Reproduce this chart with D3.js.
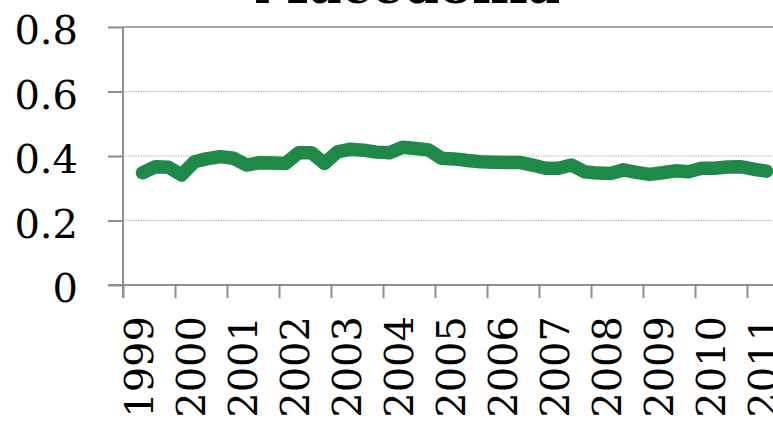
<!DOCTYPE html>
<html>
<head>
<meta charset="utf-8">
<script src="https://cdn.jsdelivr.net/npm/d3@7"></script>
<style>
  html, body { margin: 0; padding: 0; background: #fff; }
  svg { display: block; }
  text { font-family: "DejaVu Serif", "Liberation Serif", serif; fill: #000; }
</style>
</head>
<body>
<svg id="chart" width="773" height="429"></svg>
<script>
// Quarterly series, 1999 Q2 through 2011 Q2
const title = "Macedonia";
const years = [1999, 2000, 2001, 2002, 2003, 2004, 2005, 2006, 2007, 2008, 2009, 2010, 2011];
const yTicks = [0, 0.2, 0.4, 0.6, 0.8];
const quarters = [
  "1999Q2","1999Q3","1999Q4",
  "2000Q1","2000Q2","2000Q3","2000Q4",
  "2001Q1","2001Q2","2001Q3","2001Q4",
  "2002Q1","2002Q2","2002Q3","2002Q4",
  "2003Q1","2003Q2","2003Q3","2003Q4",
  "2004Q1","2004Q2","2004Q3","2004Q4",
  "2005Q1","2005Q2","2005Q3","2005Q4",
  "2006Q1","2006Q2","2006Q3","2006Q4",
  "2007Q1","2007Q2","2007Q3","2007Q4",
  "2008Q1","2008Q2","2008Q3","2008Q4",
  "2009Q1","2009Q2","2009Q3","2009Q4",
  "2010Q1","2010Q2","2010Q3","2010Q4",
  "2011Q1","2011Q2"
];
const values = [
  0.348, 0.367, 0.365,
  0.341, 0.382, 0.392, 0.398,
  0.393, 0.372, 0.379, 0.378,
  0.377, 0.410, 0.410, 0.377,
  0.413, 0.421, 0.418, 0.412,
  0.410, 0.427, 0.423, 0.419,
  0.393, 0.391, 0.386, 0.382,
  0.381, 0.380, 0.380, 0.372,
  0.362, 0.362, 0.372, 0.351,
  0.347, 0.346, 0.357, 0.349,
  0.343, 0.348, 0.354, 0.351,
  0.362, 0.362, 0.366, 0.367,
  0.359, 0.353
];

const svg = d3.select("#chart");
const margin = { left: 123, top: 27, right: 0, bottom: 144 };
const W = 773, H = 429;

// Quarter label -> decimal year at the middle of the quarter
const quarterTime = q => +q.slice(0, 4) + (+q.slice(5) - 0.5) / 4;

const x = d3.scaleLinear()
  .domain([1999, 2011.5])
  .range([margin.left, W - margin.right]);
const y = d3.scaleLinear()
  .domain([0, 0.8])
  .range([H - margin.bottom, margin.top]);

const axisColor = "#8f8f8f";

// Horizontal gridlines (dotted), top one solid
svg.append("g")
  .selectAll("line")
  .data(yTicks.filter(v => v > 0))
  .join("line")
  .attr("x1", x(1999))
  .attr("x2", W)
  .attr("y1", d => y(d))
  .attr("y2", d => y(d))
  .attr("stroke", d => d === 0.8 ? "#a6a6a6" : "#b3b3b3")
  .attr("stroke-width", d => d === 0.8 ? 2 : 1)
  .attr("stroke-dasharray", d => d === 0.8 ? null : "1.5,1");

// Y axis
const yAxis = d3.axisLeft(y)
  .tickValues(yTicks)
  .tickSize(15)
  .tickPadding(30)
  .tickFormat(d => d === 0 ? "0" : d3.format(".1f")(d));
const gy = svg.append("g")
  .attr("transform", `translate(${x(1999)},0)`)
  .call(yAxis);
gy.select(".domain")
  .attr("d", `M0,${y(0.8)}V${y(0) + 13}`)
  .attr("stroke", axisColor)
  .attr("stroke-width", 2);
gy.selectAll(".tick line").attr("stroke", axisColor).attr("stroke-width", 2);
gy.selectAll(".tick text")
  .attr("font-size", 40)
  .attr("font-family", "DejaVu Serif, Liberation Serif, serif")
  .attr("dy", "0.42em");

// X axis: year ticks with rotated labels
const xAxis = d3.axisBottom(x)
  .tickValues(years)
  .tickSize(13)
  .tickFormat(d3.format("d"));
const gx = svg.append("g")
  .attr("transform", `translate(0,${y(0)})`)
  .call(xAxis);
gx.select(".domain")
  .attr("d", `M${x(1999) - 15},0H${W}`)
  .attr("stroke", axisColor)
  .attr("stroke-width", 2);
gx.selectAll(".tick line").attr("stroke", axisColor).attr("stroke-width", 2);
gx.selectAll(".tick text")
  .attr("font-size", 40)
  .attr("font-family", "DejaVu Serif, Liberation Serif, serif")
  .attr("text-anchor", "end")
  .attr("dy", null)
  .attr("y", 0)
  .attr("x", 0)
  .attr("transform", "translate(29,31) rotate(-90)");

// Series line
const line = d3.line()
  .x((d, i) => x(quarterTime(quarters[i])))
  .y(d => y(d));
svg.append("path")
  .datum(values)
  .attr("d", line)
  .attr("fill", "none")
  .attr("stroke", "#1f8a48")
  .attr("stroke-width", 13.5)
  .attr("stroke-linejoin", "round")
  .attr("stroke-linecap", "round");

// Title, partly above the top edge
svg.append("text")
  .attr("x", 407)
  .attr("y", 3)
  .attr("text-anchor", "middle")
  .attr("font-size", 50)
  .attr("font-weight", "bold")
  .text(title);
</script>
</body>
</html>
